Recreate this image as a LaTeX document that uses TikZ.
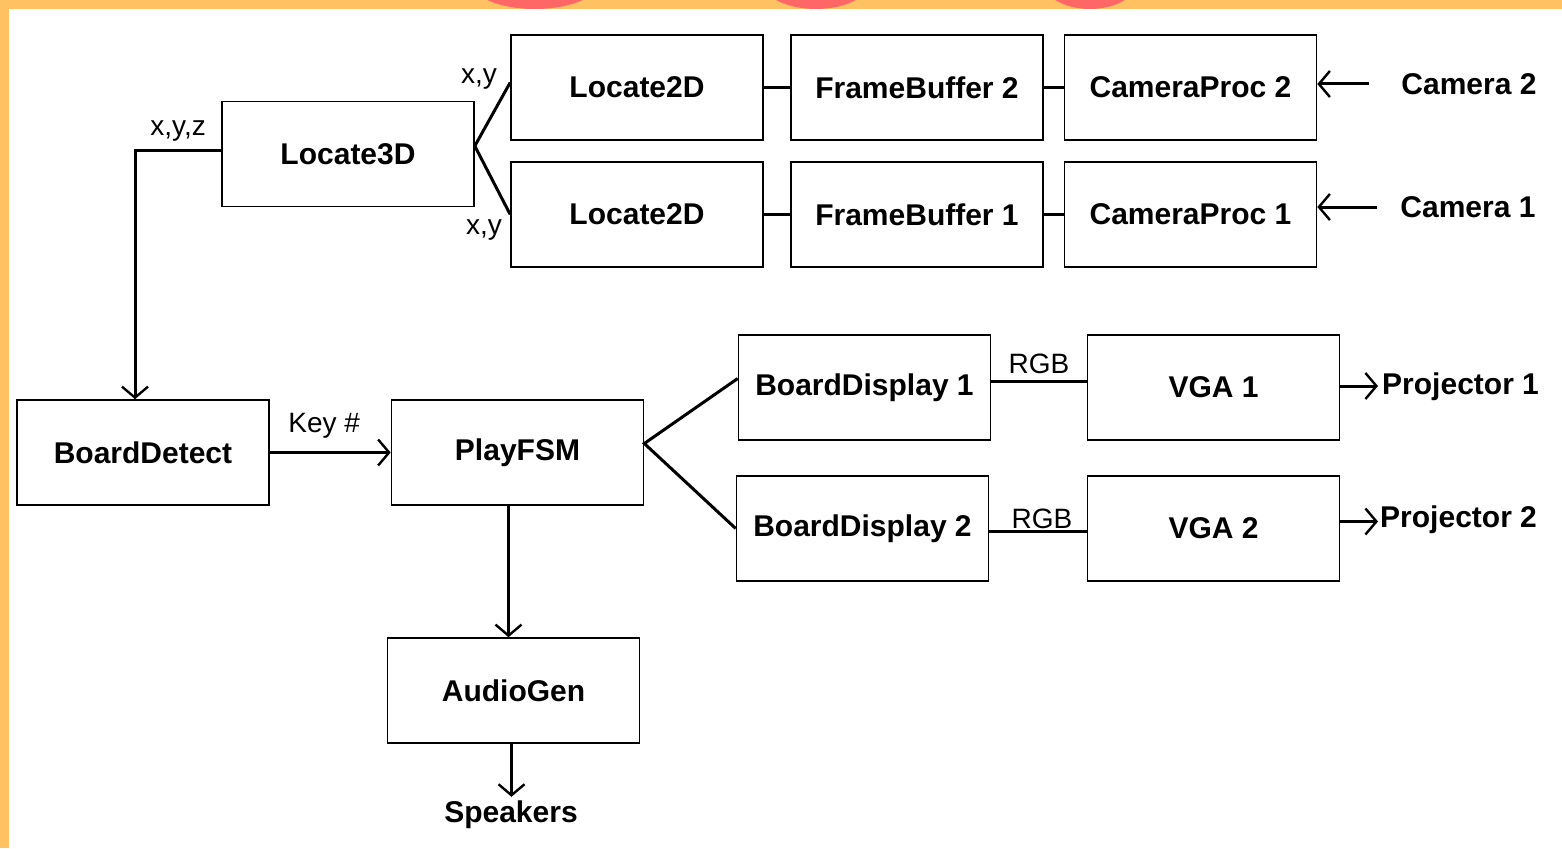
\documentclass[tikz,border=0pt]{standalone}
\usepackage{fontspec}
\setmainfont{Liberation Sans}
\usetikzlibrary{arrows.meta}
\definecolor{frameorange}{HTML}{FFC262}
\definecolor{framepink}{HTML}{FF6666}
\begin{document}
\begin{tikzpicture}[x=1pt,y=-1pt,
  block/.style={draw,line width=1.6pt,minimum width=252pt,minimum height=105pt,
    inner sep=0pt,font=\fontsize{30}{34}\selectfont\bfseries},
  conn/.style={line width=3pt},
  barb/.style={-{Straight Barb[length=11pt,width=26pt,line width=2.4pt]}},
  tag/.style={font=\fontsize{28}{32}\selectfont,inner sep=1pt},
  ext/.style={font=\fontsize{30}{34}\selectfont\bfseries}]
\useasboundingbox (0,0) rectangle (1562,848);
% Background and frame
\fill[white] (0,0) rectangle (1562,848);
\fill[frameorange] (0,0) rectangle (1562,9);
\fill[frameorange] (0,0) rectangle (9,848);
\begin{scope}
  \clip (0,0) rectangle (1562,9);
  \fill[framepink] (535,-20) ellipse (66 and 29);
  \fill[framepink] (816,-20) ellipse (55 and 29);
  \fill[framepink] (1090,-20) ellipse (48 and 29);
\end{scope}

% Camera chains
\node[block] (loctwoA) at (637,87.5) {Locate2D};
\node[block] (fbufB) at (917,87.5) {FrameBuffer 2};
\node[block] (camprocB) at (1190.5,87.5) {CameraProc 2};
\node[block] (loctwoB) at (637,214.5) {Locate2D};
\node[block] (fbufA) at (917,214.5) {FrameBuffer 1};
\node[block] (camprocA) at (1190.5,214.5) {CameraProc 1};
\node[block] (locthree) at (348,154) {Locate3D};
\node[ext,inner xsep=32pt] (camB) at (1469,84) {Camera 2};
\node[ext,inner xsep=23pt] (camA) at (1468,207) {Camera 1};

\draw[conn] (loctwoA) -- (fbufB);
\draw[conn] (fbufB) -- (camprocB);
\draw[conn] (loctwoB) -- (fbufA);
\draw[conn] (fbufA) -- (camprocA);
\draw[conn,barb] (camB.west) -- (camB.west -| camprocB.east);
\draw[conn,barb] (camA.west) -- (camA.west -| camprocA.east);
\draw[conn] ([yshift=5pt]loctwoA.west) -- ([yshift=8pt]locthree.east) -- (loctwoB.west);
\node[tag] (xyA) at (479,79) {x,y};
\node[tag] (xyB) at (484,230) {x,y};

% Game logic
\node[block] (bdetect) at (143,452.5) {BoardDetect};
\node[block] (playfsm) at (517.5,452.5) {PlayFSM};
\node[block] (bdispA) at (864.5,387.5) {BoardDisplay 1};
\node[block] (vgaA) at (1213.5,387.5) {VGA 1};
\node[block] (bdispB) at (862.5,528.5) {BoardDisplay 2};
\node[block] (vgaB) at (1213.5,528.5) {VGA 2};
\node[block] (audiogen) at (513.5,690.5) {AudioGen};
\node[ext,anchor=west,inner xsep=4pt] (projA) at (1378,387) {Projector 1};
\node[ext,anchor=west,inner xsep=2pt] (projB) at (1378,520) {Projector 2};
\node[ext,inner ysep=4pt] (speakers) at (511,815) {Speakers};

\draw[conn,barb] ([yshift=4pt]locthree.west) -| ([xshift=-8pt]bdetect.north)
  node[tag,pos=0.25,above,yshift=6pt] {x,y,z};
\draw[conn,barb] (bdetect) -- node[tag,above,yshift=12pt,xshift=-6pt] {Key \#} (playfsm);
\draw[conn] ([yshift=9pt]bdispA.west) -- ([yshift=9pt]playfsm.east) -- (bdispB.west);
\draw[conn] ([yshift=6pt]bdispA.east) -- node[tag,above,yshift=5pt] {RGB} ([yshift=6pt]vgaA.west);
\draw[conn] ([yshift=-3pt]bdispB.east) -- node[tag,above,xshift=4pt] {RGB} ([yshift=-3pt]vgaB.west);
\draw[conn,barb] ([yshift=1.5pt]vgaA.east) -- ([yshift=1.5pt]vgaA.east -| projA.west);
\draw[conn,barb] ([yshift=7pt]vgaB.east) -- ([yshift=7pt]vgaB.east -| projB.west);
\draw[conn,barb] ([xshift=-9pt]playfsm.south) -- ([xshift=-9pt]playfsm.south |- audiogen.north);
\draw[conn,barb] ([xshift=-2pt]audiogen.south) -- ([xshift=-2pt]audiogen.south |- speakers.north);
\end{tikzpicture}
\end{document}
